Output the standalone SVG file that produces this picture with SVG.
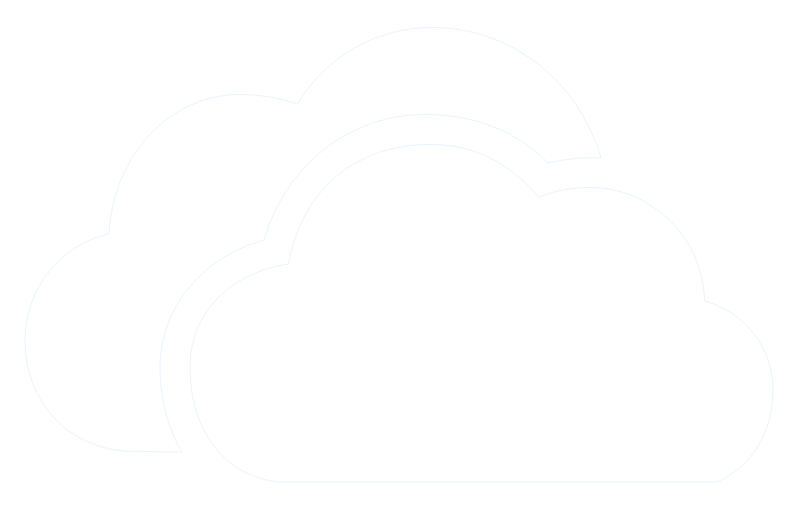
<svg xmlns="http://www.w3.org/2000/svg" width="794" height="507" viewBox="0 0 794 507">
<style>.c{fill:#fff;stroke:#dcebfc;stroke-width:.6;stroke-linejoin:miter}</style>
<rect width="794" height="507" fill="#fff"/>
<g id="cloud-back"><path class="c" d="M182 452.300L125 451C68 447 25 402 25 340C25 288 62 244 109 234C113 155 170 94.500 240 94.500C261 94.500 280 98 297.500 104C325 58 375 27.500 432 27.500C512 27.500 579 82 601 158C583 157 565 159 548 163C517 131 474 114.500 425 114.500C348 114.500 285 167 264 240C205 256 160 306 160 368C160 399 168 429 182 452.300Z"/></g>
<g id="cloud-front"><path class="c" d="M288.500 264C302 190 355 144.500 430 144.500C474 144.500 508 162 539 197C555 190.500 572 187.500 590 187.500C652 187.500 703 238 704.500 301C745 312 773 348 773 390C773 432 751 468 717 482L280 482C229 478 190 435 190 367C190 312 232 272 288.500 264Z"/></g>
</svg>
